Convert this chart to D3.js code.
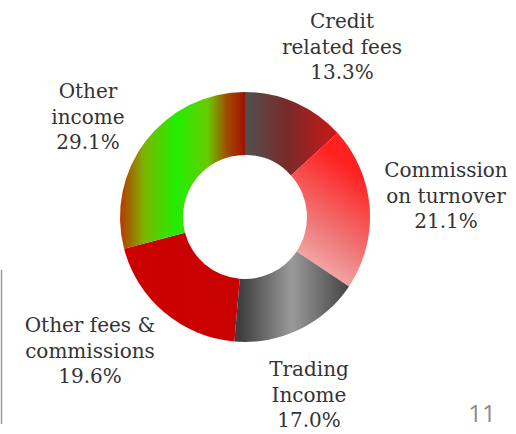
<!DOCTYPE html>
<html>
<head>
<meta charset="utf-8">
<script src="https://cdn.jsdelivr.net/npm/d3@7"></script>
<style>
  body { margin: 0; background: #fff; }
  svg { display: block; }
</style>
</head>
<body>
<svg id="chart" width="516" height="434"></svg>
<script>
// slice data, clockwise from 12 o'clock
const categories = ["Credit related fees", "Commission on turnover", "Trading Income", "Other fees & commissions", "Other income"];
const shares = [13.3, 21.1, 17.0, 19.6, 29.1];
const labelLines = [
    ["Credit", "related fees", "13.3%"],
    ["Commission", "on turnover", "21.1%"],
    ["Trading", "Income", "17.0%"],
    ["Other fees &", "commissions", "19.6%"],
    ["Other", "income", "29.1%"]
];
const labelPos = [[342, 28], [446, 177], [309, 376], [90, 332], [88, 98]];

const cx = 245, cy = 217;
const outerR = 125, innerR = 62;

const svg = d3.select('#chart');
const defs = svg.append('defs');

// gradients per slice, coords relative to the donut centre
const gradients = [
    { box: [0, 0, 95, 0], stops: [[0, '#505050'], [0.45, '#7a2a2a'], [1, '#d21414']] },
    { box: [55, 63, 125, -37], stops: [[0, '#f2c0c0'], [0.5, '#f07070'], [1, '#ff2020']] },
    { box: [-5, 0, 110, 0], stops: [[0, '#3e3e3e'], [0.45, '#9a9a9a'], [1, '#3a3a3a']] },
    { box: [-125, 0, 0, 0], stops: [[0, '#cc0000'], [1, '#c80202']] },
    { box: [-125, 0, 0, 0], stops: [[0, '#b83800'], [0.2, '#7ab800'], [0.45, '#22ee00'], [0.7, '#66cc00'], [0.85, '#a05000'], [1, '#a01000']] }
];

gradients.forEach((g, i) => {
    const lg = defs.append('linearGradient')
        .attr('id', 'g' + i)
        .attr('gradientUnits', 'userSpaceOnUse')
        .attr('x1', g.box[0]).attr('y1', g.box[1])
        .attr('x2', g.box[2]).attr('y2', g.box[3]);
    g.stops.forEach(s => lg.append('stop').attr('offset', s[0]).attr('stop-color', s[1]));
});

const pie = d3.pie().sort(null).value(d => d);
const arc = d3.arc().innerRadius(innerR).outerRadius(outerR);

svg.append('g')
    .attr('transform', `translate(${cx},${cy})`)
    .selectAll('path')
    .data(pie(shares))
    .join('path')
    .attr('d', arc)
    .attr('fill', (d, i) => `url(#g${i})`);

// labels
const lineH = 25.5;
labelLines.forEach((lines, i) => {
    const t = svg.append('text')
        .attr('x', labelPos[i][0])
        .attr('y', labelPos[i][1])
        .attr('text-anchor', 'middle')
        .style('font-family', '"DejaVu Serif", Georgia, serif')
        .style('font-size', '20px')
        .style('fill', '#333');
    lines.forEach((ln, j) => {
        t.append('tspan')
            .attr('x', labelPos[i][0])
            .attr('dy', j === 0 ? 0 : lineH)
            .text(ln);
    });
});

// page number and side rule
svg.append('text')
    .attr('x', 482).attr('y', 422)
    .attr('text-anchor', 'middle')
    .style('font-family', '"Open Sans", "Liberation Sans", sans-serif')
    .style('font-size', '24px')
    .style('fill', '#8a8a8a')
    .text('11');

svg.append('line')
    .attr('x1', 1.5).attr('x2', 1.5)
    .attr('y1', 270).attr('y2', 424)
    .attr('stroke', '#9a9a9a')
    .attr('stroke-width', 1.5);
</script>
</body>
</html>
